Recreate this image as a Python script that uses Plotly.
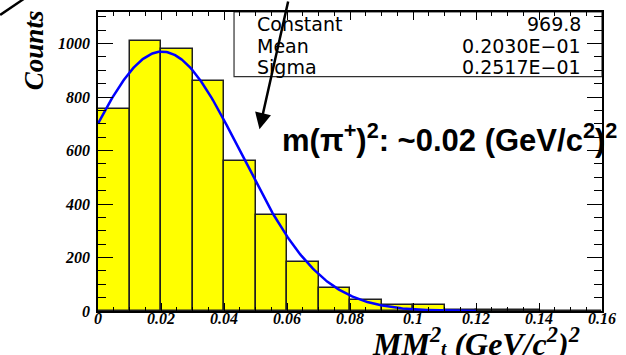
import numpy as np
import plotly.graph_objects as go

# Missing-mass-squared histogram (bin width 0.01 GeV^2/c^4)
bin_lo = [0.00, 0.01, 0.02, 0.03, 0.04, 0.05, 0.06, 0.07,
          0.08, 0.09, 0.10, 0.11, 0.12, 0.13, 0.14, 0.15]
counts = [755, 1009, 978, 860, 562, 360, 184, 87,
          41, 22, 22, 3, 5, 4, 0, 0]
bin_width = 0.01

# Gaussian fit parameters (as printed in the stats box)
fit_const = 969.8
fit_mean = 0.02030
fit_sigma = 0.02517
fit_range = [0.0, 0.12]

stat_names = ["Constant", "Mean", "Sigma"]
stat_values = ["969.8", "0.2030E\u221201", "0.2517E\u221201"]

x_ticks = [0, 0.02, 0.04, 0.06, 0.08, 0.1, 0.12, 0.14, 0.16]
x_tick_text = ["0", "0.02", "0.04", "0.06", "0.08", "0.1", "0.12", "0.14", "0.16"]
y_ticks = [0, 200, 400, 600, 800, 1000]

W, H = 626, 355
L, R, T, B = 98, 13, 10, 44
pw, ph = W - L - R, H - T - B


def px(xpix):
    return (xpix - L) / pw


def py(ypix):
    return (H - B - ypix) / ph


centers = [b + bin_width / 2 for b in bin_lo]
xf = np.linspace(fit_range[0], fit_range[1], 300)
yf = fit_const * np.exp(-0.5 * ((xf - fit_mean) / fit_sigma) ** 2)

tick_font = dict(family="Liberation Serif", size=16, color="black",
                 weight="bold", style="italic")

fig = go.Figure()
fig.add_trace(go.Bar(
    x=centers, y=counts, width=bin_width,
    marker=dict(color="#ffff00", line=dict(color="#202020", width=1.5)),
    showlegend=False, hoverinfo="x+y",
))
fig.add_trace(go.Scatter(
    x=xf, y=yf, mode="lines",
    line=dict(color="#0000ff", width=2.5),
    showlegend=False,
))

axis_common = dict(
    showline=True, linecolor="black", linewidth=1.5, mirror="allticks",
    ticks="inside", tickcolor="black", tickwidth=1.2,
    showgrid=False, zeroline=False, tickfont=tick_font,
    ticklabeloverflow="allow",
)
fig.update_xaxes(
    range=[0, 0.16], tickvals=x_ticks, ticktext=x_tick_text, ticklen=8,
    ticklabelstandoff=-8,
    minor=dict(dtick=0.005, ticks="inside", ticklen=4, tickcolor="black", tickwidth=1.2),
    **axis_common,
)
fig.update_yaxes(
    range=[0, 1118], tickvals=y_ticks, ticklen=15, ticklabelstandoff=3,
    minor=dict(dtick=50, ticks="inside", ticklen=8, tickcolor="black", tickwidth=1.2),
    **axis_common,
)

shapes = [
    # statistics box
    dict(type="rect", xref="paper", yref="paper",
         x0=px(237), x1=1.0, y0=py(75), y1=1.0,
         fillcolor="white", line=dict(color="#303030", width=1.2), layer="below"),
    # stray pointer line in the corner
    dict(type="line", xref="paper", yref="paper",
         x0=px(-2), y0=py(13), x1=px(22), y1=py(-3),
         line=dict(color="black", width=2.5)),
]

annotations = []
row_y = [22, 44, 65]
for name, val, yy in zip(stat_names, stat_values, row_y):
    annotations.append(dict(
        xref="paper", yref="paper", x=px(258), y=py(yy), text=name,
        xanchor="left", yanchor="middle", showarrow=False,
        font=dict(family="DejaVu Sans", size=19, color="black")))
    annotations.append(dict(
        xref="paper", yref="paper", x=px(594), y=py(yy), text=val,
        xanchor="right", yanchor="middle", showarrow=False,
        font=dict(family="DejaVu Sans", size=19, color="black")))

# arrow pointing at the pion peak
annotations.append(dict(
    xref="paper", yref="paper", x=px(263), y=py(128), text="",
    showarrow=True, ax=29, ay=-134, axref="pixel", ayref="pixel",
    arrowhead=2, arrowsize=1.3, arrowwidth=2.5, arrowcolor="black"))

annotations.append(dict(
    xref="paper", yref="paper", x=px(284), y=py(137),
    text="m(\u03c0<sup>+</sup>)<sup>2</sup>: ~0.02 (GeV/c<sup>2</sup>)<sup>2</sup>",
    xanchor="left", yanchor="middle", showarrow=False,
    font=dict(family="Liberation Sans", size=31, color="black", weight="bold")))

annotations.append(dict(
    xref="paper", yref="paper", x=px(32), y=py(48), text="Counts",
    textangle=-90, showarrow=False, xanchor="center", yanchor="middle",
    font=dict(family="Liberation Serif", size=27, color="black",
              weight="bold", style="italic")))

annotations.append(dict(
    xref="paper", yref="paper", x=px(484), y=py(342),
    text="MM<sup>2</sup><span style='font-size:19px'>t</span> (GeV/c<sup>2</sup>)<sup>2</sup>",
    showarrow=False, xanchor="center", yanchor="middle",
    font=dict(family="Liberation Serif", size=32, color="black",
              weight="bold", style="italic")))

fig.update_layout(
    width=W, height=H,
    margin=dict(l=L, r=R, t=T, b=B),
    paper_bgcolor="white", plot_bgcolor="white",
    bargap=0, shapes=shapes, annotations=annotations,
)

fig.write_html("out.html")
